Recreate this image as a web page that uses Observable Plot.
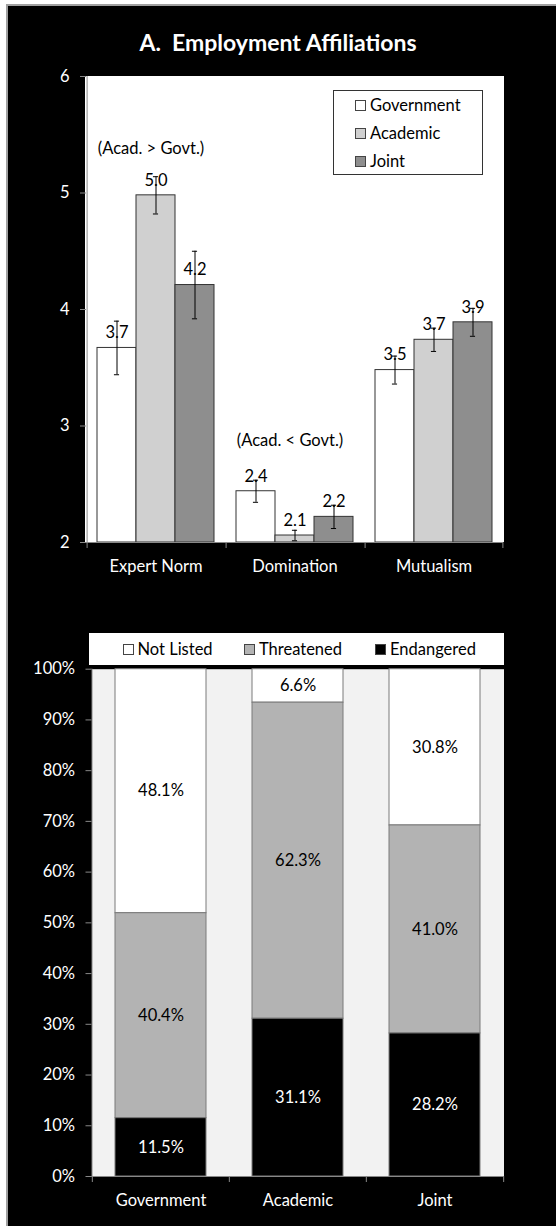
<!DOCTYPE html>
<html><head><meta charset="utf-8">
<script src="https://cdn.jsdelivr.net/npm/d3@7"></script>
<script src="https://cdn.jsdelivr.net/npm/@observablehq/plot@0.6"></script>
<style>
body{margin:0;background:#fff;}
#page{position:relative;width:556px;height:1226px;overflow:hidden;font-family:Lato,sans-serif;}
#panel{position:absolute;left:6px;top:4px;width:550px;height:1222px;background:#000;border-left:2px solid #a0a0a0;border-top:2px solid #a0a0a0;box-sizing:border-box;}
#plotbg{position:absolute;left:85px;top:76px;width:418.5px;height:466px;background:#fff;}
#title{position:absolute;left:0;width:556px;top:31px;text-align:center;color:#fff;font-weight:bold;font-size:23px;line-height:23px;white-space:pre;}
.chart{position:absolute;left:0;}
#leg1{position:absolute;left:333px;top:90px;width:150px;height:85px;background:#fff;border:1px solid #333;box-sizing:border-box;}
#leg1 .row{height:28.2px;display:flex;align-items:center;padding-left:21px;font-size:16.5px;color:#000;}
#leg2{position:absolute;left:89px;top:633px;width:415px;height:32px;background:#fff;}
#leg2 .item{position:absolute;top:0;height:32px;display:flex;align-items:center;font-size:16.5px;color:#000;}
.sw{width:9px;height:9px;border:1px solid #444;margin-right:4px;flex:none;}
</style></head>
<body>
<div id="page">
  <div id="panel"></div>
  <div id="plotbg"></div>
  <div id="c1" class="chart" style="top:0"></div>
  <div id="c2" class="chart" style="top:600px"></div>
  <div id="title">A.  Employment Affiliations</div>
  <div id="leg1"></div>
  <div id="leg2"></div>
</div>
<script>
// ---------- data ----------
const dimensions = ["Expert Norm", "Domination", "Mutualism"];
const affiliations = ["Government", "Academic", "Joint"];
const affColors = ["#ffffff", "#d0d0d0", "#8e8e8e"];
const govMeans = [3.67, 2.44, 3.48];
const acadMeans = [4.98, 2.06, 3.74];
const jointMeans = [4.21, 2.22, 3.89];
const govErr = [0.23, 0.095, 0.12];
const acadErr = [0.16, 0.045, 0.10];
const jointErr = [0.29, 0.10, 0.12];
const noteDims = ["Expert Norm", "Domination"];
const noteTexts = ["(Acad. > Govt.)", "(Acad. < Govt.)"];
const noteLevels = [5.38, 2.87];
const topTicks = [2, 3, 4, 5, 6];

const statuses = ["Not Listed", "Threatened", "Endangered"];
const statusColors = ["#ffffff", "#b3b3b3", "#000000"];
const notListed = [48.1, 6.6, 30.8];
const threatened = [40.4, 62.3, 41.0];
const endangered = [11.5, 31.1, 28.2];
const pctTicks = [0, 10, 20, 30, 40, 50, 60, 70, 80, 90, 100];

// ---------- tables ----------
const meanSets = [govMeans, acadMeans, jointMeans];
const errSets = [govErr, acadErr, jointErr];
const rows = dimensions.flatMap((dim, j) => affiliations.map((aff, i) => ({dim, aff, mean: meanSets[i][j], err: errSets[i][j]})));
const notes = noteDims.map((dim, i) => ({dim, text: noteTexts[i], y: noteLevels[i]}));
const pctSets = [notListed, threatened, endangered];
const stackRows = statuses.flatMap((status, s) => affiliations.map((aff, i) => ({aff, status, pct: pctSets[s][i]})));

const font = "Lato, sans-serif";
const fs = "16.5px";
const W = 556;

// ---------- top chart ----------
const H1 = 600;
const m1 = {top: 76, bottom: 58, left: 85, right: 52.5};
const yMin = topTicks[0], yMax = topTicks[topTicks.length - 1];
const facetStep = (W - m1.left - m1.right) / dimensions.length;
const outerPad = 0.25;
const bw = facetStep / (affiliations.length + 2 * outerPad);
const capInset = bw / 2 - 3;
const edgeShift = bw / 2 + outerPad * bw;                       // band centre -> facet edge
const tickLen = 6 * (yMax - yMin) / (H1 - m1.top - m1.bottom);  // 6px in data units

const chart1 = Plot.plot({
  width: W, height: H1,
  marginTop: m1.top, marginBottom: m1.bottom, marginLeft: m1.left, marginRight: m1.right,
  style: {background: "transparent", color: "white", fontFamily: font, fontSize: fs},
  fx: {domain: dimensions, padding: 0, label: null},
  x: {domain: affiliations, paddingInner: 0, paddingOuter: outerPad, axis: null},
  y: {domain: [yMin, yMax], label: null},
  color: {domain: affiliations, range: affColors},
  marks: [
    Plot.barY(rows, {fx: "dim", x: "aff", y1: yMin, y2: "mean", fill: "aff", stroke: "#333", strokeWidth: 1}),
    Plot.text(rows, {fx: "dim", x: "aff", y: "mean", text: d => d.mean.toFixed(1), dy: -15, fill: "black"}),
    Plot.ruleX(rows, {fx: "dim", x: "aff", y1: d => d.mean - d.err, y2: d => d.mean + d.err, stroke: "black", strokeWidth: 1}),
    Plot.tickY(rows, {fx: "dim", x: "aff", y: d => d.mean + d.err, inset: capInset, stroke: "black"}),
    Plot.tickY(rows, {fx: "dim", x: "aff", y: d => d.mean - d.err, inset: capInset, stroke: "black"}),
    Plot.text(notes, {fx: "dim", x: () => "Academic", y: "y", text: "text", dx: -5, fill: "black"}),
    Plot.ruleY([yMin], {stroke: "#888"}),
    // left axis line (first facet only)
    Plot.ruleX([dimensions[0]], {fx: d => d, x: () => affiliations[0], dx: -edgeShift, stroke: "#888"}),
    // category boundary ticks below the axis
    Plot.ruleX(dimensions, {fx: d => d, x: () => affiliations[0], dx: -edgeShift, y1: yMin, y2: yMin - tickLen, stroke: "#888"}),
    Plot.ruleX([dimensions[2]], {fx: d => d, x: () => affiliations[2], dx: edgeShift, y1: yMin, y2: yMin - tickLen, stroke: "#888"}),
    Plot.axisY({ticks: topTicks, tickFormat: d => String(d), tickSize: 6, tickPadding: 11, stroke: "#888", fill: "white", label: null}),
    Plot.axisFx({anchor: "bottom", tickSize: 0, tickPadding: 17.5, fill: "white", stroke: "none", label: null})
  ]
});
document.getElementById("c1").append(chart1);

// ---------- bottom chart ----------
const m2 = {top: 68.7, bottom: 50, left: 91.5, right: 52.5};
const stepB = (W - m2.left - m2.right) / affiliations.length;
const order = [statuses[2], statuses[1], statuses[0]];
const stackOpts = {x: "aff", y: "pct", z: "status", order, text: d => d.pct.toFixed(1) + "%"};

const chart2 = Plot.plot({
  width: W, height: 626,
  marginTop: m2.top, marginBottom: m2.bottom, marginLeft: m2.left, marginRight: m2.right,
  style: {background: "transparent", color: "white", fontFamily: font, fontSize: fs},
  x: {domain: affiliations, paddingInner: 0.336, paddingOuter: 0.168, label: null},
  y: {domain: [0, 100], label: null},
  color: {domain: statuses, range: statusColors},
  marks: [
    Plot.frame({fill: "#f2f2f2", stroke: null}),
    Plot.barY(stackRows, {x: "aff", y: "pct", fill: "status", z: "status", order, stroke: "#7a7a7a", strokeWidth: 1}),
    Plot.text(stackRows, Plot.filter(d => d.status !== statuses[2], Plot.stackY({...stackOpts, fill: "black"}))),
    Plot.text(stackRows, Plot.filter(d => d.status === statuses[2], Plot.stackY({...stackOpts, fill: "white"}))),
    Plot.ruleY([0], {stroke: "#888"}),
    Plot.frame({anchor: "left", stroke: "#888"}),
    Plot.axisY({ticks: pctTicks, tickFormat: d => d + "%", tickSize: 6, tickPadding: 11, stroke: "#888", fill: "white", label: null}),
    Plot.axisX({tickSize: 0, tickPadding: 18, fill: "white", label: null}),
    Plot.axisX({tickSize: 6, tickFormat: () => "", dx: -stepB / 2, stroke: "#888", label: null}),
    Plot.axisX({ticks: [affiliations[2]], tickSize: 6, tickFormat: () => "", dx: stepB / 2, stroke: "#888", label: null})
  ]
});
document.getElementById("c2").append(chart2);

// ---------- legends ----------
const leg1 = document.getElementById("leg1");
affiliations.forEach((a, i) => {
  const r = document.createElement("div");
  r.className = "row";
  r.innerHTML = `<span class="sw" style="background:${affColors[i]}"></span><span>${a}</span>`;
  leg1.append(r);
});
const leg2 = document.getElementById("leg2");
const leg2Left = [33.5, 155, 286];
statuses.forEach((s, i) => {
  const it = document.createElement("div");
  it.className = "item";
  it.style.left = leg2Left[i] + "px";
  it.innerHTML = `<span class="sw" style="background:${statusColors[i]}"></span><span>${s}</span>`;
  leg2.append(it);
});
</script>
</body></html>
